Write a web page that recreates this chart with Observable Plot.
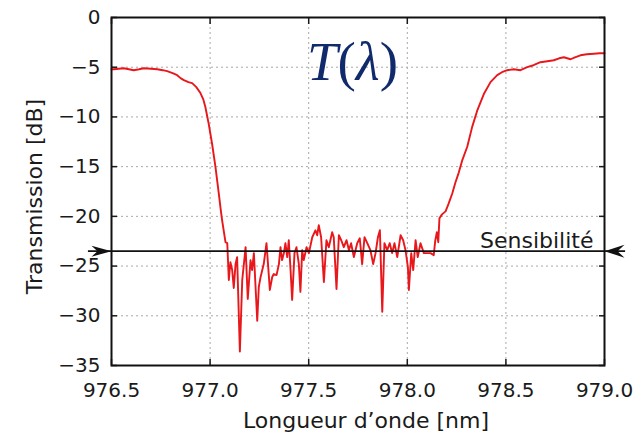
<!DOCTYPE html>
<html>
<head>
<meta charset="utf-8">
<script src="https://cdn.jsdelivr.net/npm/d3@7"></script>
<script src="https://cdn.jsdelivr.net/npm/@observablehq/plot@0.6"></script>
<style>
  html, body { margin: 0; padding: 0; background: #fff; }
</style>
</head>
<body>
<div id="chart"></div>
<script>
// ---- Data ----
const wavelength = [
  976.500, 976.512, 976.537, 976.562, 976.588, 976.613, 976.640, 976.664, 976.700, 976.732,
  976.760, 976.782, 976.810, 976.833, 976.850, 976.867, 976.890, 976.909, 976.930, 976.951,
  976.965, 976.976, 976.993, 977.010, 977.027, 977.044, 977.055, 977.061, 977.078, 977.087,
  977.095, 977.103, 977.112, 977.120, 977.129, 977.137, 977.151, 977.163, 977.180, 977.191,
  977.205, 977.213, 977.222, 977.239, 977.247, 977.256, 977.272, 977.286, 977.303, 977.315,
  977.323, 977.337, 977.349, 977.357, 977.365, 977.374, 977.382, 977.391, 977.399, 977.408,
  977.416, 977.428, 977.438, 977.450, 977.458, 977.467, 977.475, 977.489, 977.501, 977.518,
  977.534, 977.543, 977.551, 977.563, 977.577, 977.590, 977.602, 977.619, 977.627, 977.641,
  977.653, 977.665, 977.678, 977.692, 977.704, 977.715, 977.729, 977.746, 977.759, 977.771,
  977.783, 977.797, 977.813, 977.827, 977.839, 977.851, 977.861, 977.873, 977.884, 977.898,
  977.911, 977.923, 977.935, 977.949, 977.966, 977.979, 977.991, 978.003, 978.008, 978.020,
  978.030, 978.042, 978.053, 978.067, 978.084, 978.101, 978.118, 978.134, 978.142, 978.150,
  978.157, 978.163, 978.176, 978.194, 978.210, 978.228, 978.244, 978.261, 978.278, 978.304,
  978.329, 978.354, 978.388, 978.422, 978.456, 978.480, 978.507, 978.540, 978.574, 978.608,
  978.640, 978.675, 978.710, 978.743, 978.770, 978.794, 978.828, 978.850, 978.878, 978.910,
  978.946, 978.975, 979.000
];
const transmission = [
  -5.2, -5.2, -5.15, -5.1, -5.2, -5.3, -5.2, -5.1, -5.15, -5.2,
  -5.3, -5.4, -5.6, -5.8, -6.1, -6.3, -6.5, -6.6, -7.0, -7.6,
  -8.2, -9.0, -10.7, -12.7, -15.0, -17.7, -19.5, -20.4, -22.6, -22.7,
  -26.4, -24.6, -25.4, -27.2, -24.8, -24.1, -33.6, -26.4, -23.1, -28.3,
  -24.4, -25.4, -23.7, -30.5, -27.1, -26.1, -24.8, -22.7, -27.4, -26.1,
  -25.8, -25.9, -24.8, -23.1, -24.4, -23.7, -22.7, -24.1, -22.4, -25.4,
  -28.4, -23.7, -23.1, -24.8, -27.6, -23.4, -24.4, -23.1, -23.7, -22.1,
  -21.4, -21.9, -20.9, -22.1, -26.6, -22.4, -23.1, -21.6, -22.1, -27.3,
  -21.9, -22.4, -23.1, -22.4, -23.4, -22.7, -24.1, -22.7, -22.2, -24.8,
  -22.1, -22.7, -23.4, -24.8, -23.7, -22.1, -21.4, -29.6, -22.7, -23.4,
  -22.7, -23.7, -22.7, -24.1, -21.9, -22.4, -23.4, -25.1, -27.4, -23.7,
  -25.4, -22.4, -24.1, -22.7, -23.7, -23.7, -23.7, -23.9, -22.4, -21.6,
  -22.6, -20.2, -19.8, -19.5, -18.7, -17.7, -16.6, -15.6, -14.4, -13.0,
  -11.0, -9.4, -7.7, -6.5, -5.8, -5.5, -5.3, -5.2, -5.3, -5.0,
  -4.8, -4.5, -4.4, -4.3, -4.1, -4.0, -4.2, -4.0, -3.8, -3.7,
  -3.65, -3.6, -3.6
];

const xDomain = [976.5, 979.0];
const yDomain = [-35, 0];
const xTicks = [976.5, 977.0, 977.5, 978.0, 978.5, 979.0];
const yTicks = [0, -5, -10, -15, -20, -25, -30, -35];

const xLabel = "Longueur d\u2019onde [nm]";
const yLabel = "Transmission [dB]";

const sensLevel = -23.5;             // "Sensibilité" threshold (dB)
const sensSpan = [976.383, 979.107]; // horizontal extent of the threshold line
const sensLabel = "Sensibilité";

const titleText = "T(\u03bb)";
const titlePos = [977.722, -4.47];

// ---- Build ----
const data = wavelength.map((x, i) => ({x, y: transmission[i]}));

// barbed arrowheads (tip at the symbol origin)
const arrowRight = {
  draw(ctx, size) {
    const k = Math.sqrt(size / Math.PI);
    ctx.moveTo(0, 0);
    ctx.lineTo(-20 * k, -5.5 * k);
    ctx.lineTo(-14 * k, 0);
    ctx.lineTo(-20 * k, 5.5 * k);
    ctx.closePath();
  }
};
const arrowLeft = {
  draw(ctx, size) {
    const k = Math.sqrt(size / Math.PI);
    ctx.moveTo(0, 0);
    ctx.lineTo(20 * k, -6.5 * k);
    ctx.lineTo(13 * k, 0);
    ctx.lineTo(20 * k, 6.5 * k);
    ctx.closePath();
  }
};

const fmtX = d3.format(".1f");
const noLabel = () => "";
const gridStyle = {stroke: "#a8a8a8", strokeOpacity: 1, strokeWidth: 1, strokeDasharray: "2,3"};

const chart = Plot.plot({
  width: 644,
  height: 434,
  marginLeft: 111,
  marginRight: 40,
  marginTop: 17,
  marginBottom: 69,
  style: {fontFamily: "'DejaVu Sans', 'Liberation Sans', sans-serif", fontSize: "20px", color: "#1a1a1a", background: "#fff"},
  x: {domain: xDomain},
  y: {domain: yDomain},
  marks: [
    Plot.gridX(xTicks, gridStyle),
    Plot.gridY(yTicks, gridStyle),
    // tick labels
    Plot.axisX(xTicks, {anchor: "bottom", tickSize: 0, tickPadding: 17, tickFormat: fmtX, label: null}),
    Plot.axisY(yTicks, {anchor: "left", tickSize: 0, tickPadding: 11, label: null}),
    // inward ticks on all four sides
    Plot.axisX(xTicks, {anchor: "bottom", tickSize: 6, dy: -6, tickFormat: noLabel, label: null, strokeWidth: 1.5}),
    Plot.axisX(xTicks, {anchor: "top", tickSize: 6, dy: 6, tickFormat: noLabel, label: null, strokeWidth: 1.5}),
    Plot.axisY(yTicks, {anchor: "left", tickSize: 6, dx: 6, tickFormat: noLabel, label: null, strokeWidth: 1.5}),
    Plot.axisY(yTicks, {anchor: "right", tickSize: 6, dx: -6, tickFormat: noLabel, label: null, strokeWidth: 1.5}),
    // axis titles
    Plot.text([xLabel], {frameAnchor: "bottom", text: d => d, textAnchor: "middle", lineAnchor: "middle", dx: 8, dy: 55, fontSize: 22}),
    Plot.text([yLabel], {frameAnchor: "left", text: d => d, textAnchor: "middle", lineAnchor: "middle", rotate: -90, dx: -77, dy: 5, fontSize: 22}),
    // transmission curve
    Plot.line(data, {x: "x", y: "y", stroke: "#e8171b", strokeWidth: 1.9, strokeLinejoin: "round"}),
    // sensitivity threshold
    Plot.ruleY([sensLevel], {x1: sensSpan[0], x2: sensSpan[1], stroke: "#111", strokeWidth: 1.6}),
    Plot.dot([sensLevel], {x: xDomain[0], y: d => d, symbol: arrowRight, r: 1, fill: "#111", stroke: "none"}),
    Plot.dot([sensLevel], {x: xDomain[1], y: d => d, symbol: arrowLeft, r: 1, fill: "#111", stroke: "none"}),
    Plot.text([sensLabel], {x: xDomain[1], y: sensLevel, text: d => d, textAnchor: "end", dx: -11, dy: -10, fontSize: 22, fill: "#1a1a1a"}),
    // title T(λ)
    Plot.text([titleText], {x: titlePos[0], y: titlePos[1], text: d => d, fontSize: 55, fontFamily: "'Liberation Serif', 'DejaVu Serif', serif", fill: "#112a6c"}),
    Plot.frame({stroke: "#111", strokeWidth: 2})
  ]
});

// style T and λ italic, parentheses upright
chart.querySelectorAll("text").forEach(t => {
  if (t.textContent === titleText) {
    t.textContent = "";
    const parts = [["T", "italic"], ["(", "normal"], ["\u03bb", "italic"], [")", "normal"]];
    for (const [s, st] of parts) {
      const ts = document.createElementNS("http://www.w3.org/2000/svg", "tspan");
      ts.setAttribute("font-style", st);
      ts.textContent = s;
      t.appendChild(ts);
    }
  }
});

document.getElementById("chart").appendChild(chart);
</script>
</body>
</html>
